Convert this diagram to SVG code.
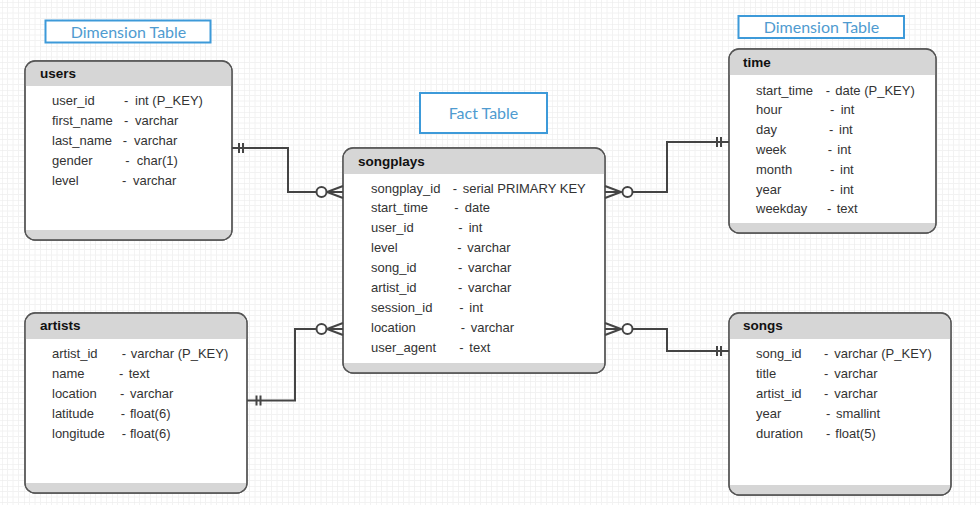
<svg xmlns="http://www.w3.org/2000/svg" width="980" height="507" viewBox="0 0 980 507">
<defs>
<pattern id="grid" x="2" y="2" width="22" height="22" patternUnits="userSpaceOnUse">
<path d="M5.5,0V22M11,0V22M16.5,0V22M0,5.5H22M0,11H22M0,16.5H22" stroke="#f2f2f2" stroke-width="1" fill="none"/>
<path d="M0,0V22M0,0H22" stroke="#eaeaea" stroke-width="1" fill="none"/>
</pattern>
<style>
.box{fill:#fff;stroke:#555;stroke-width:1.3}
.band{fill:#d6d6d6}
.title{font-family:"Liberation Sans",Arial,sans-serif;font-weight:bold;font-size:13.5px;fill:#111}
.row{font-family:"Liberation Sans",Arial,sans-serif;font-size:13px;fill:#333}
.lbl{fill:#fff;stroke:#3d9ad9;stroke-width:2}
.lbltxt{font-family:Lato,"Open Sans",sans-serif;font-size:16px;fill:#4f9bd0;text-anchor:middle}
.ln{fill:none;stroke:#444;stroke-width:2}
.circ{fill:#fff;stroke:#444;stroke-width:2}
</style>
</defs>
<rect width="980" height="507" fill="#fff"/>
<rect width="980" height="505" fill="url(#grid)"/>

<g id="label-dim-users">
<rect class="lbl" x="45.5" y="20.5" width="165" height="22"/>
<text class="lbltxt" x="128.5" y="37.5">Dimension Table</text>
</g>
<g id="label-fact">
<rect class="lbl" x="420" y="93" width="127" height="40"/>
<text class="lbltxt" x="483.5" y="118.5">Fact Table</text>
</g>
<g id="label-dim-time">
<rect class="lbl" x="738.5" y="16" width="165.5" height="22"/>
<text class="lbltxt" x="821.5" y="32.5">Dimension Table</text>
</g>

<g id="users">
<rect class="box" x="25" y="61" width="207" height="179" rx="10"/>
<path class="band" d="M25.6,86V71A9.4,9.4 0 0 1 35,61.6H222A9.4,9.4 0 0 1 231.4,71V86Z"/>
<path class="band" d="M25.6,230H231.4A9.4,9.4 0 0 1 222,239.4H35A9.4,9.4 0 0 1 25.6,230Z"/>
<rect x="25" y="61" width="207" height="179" rx="10" fill="none" stroke="#555" stroke-width="1.3"/>
<text class="title" x="40" y="78">users</text>
<text class="row" x="52" y="104.5">user_id</text><text class="row" x="124" y="104.5">-</text><text class="row" x="135" y="104.5">int (P_KEY)</text>
<text class="row" x="52" y="124.5">first_name</text><text class="row" x="124" y="124.5">-</text><text class="row" x="135" y="124.5">varchar</text>
<text class="row" x="52" y="144.5">last_name</text><text class="row" x="122.7" y="144.5">-</text><text class="row" x="134" y="144.5">varchar</text>
<text class="row" x="52" y="164.5">gender</text><text class="row" x="125.3" y="164.5">-</text><text class="row" x="136.7" y="164.5">char(1)</text>
<text class="row" x="52" y="184.5">level</text><text class="row" x="122" y="184.5">-</text><text class="row" x="133" y="184.5">varchar</text>
</g>

<g id="songplays">
<rect class="box" x="343" y="148" width="262" height="225" rx="10"/>
<path class="band" d="M343.6,174V158A9.4,9.4 0 0 1 353,148.6H595A9.4,9.4 0 0 1 604.4,158V174Z"/>
<path class="band" d="M343.6,363H604.4A9.4,9.4 0 0 1 595,372.4H353A9.4,9.4 0 0 1 343.6,363Z"/>
<rect x="343" y="148" width="262" height="225" rx="10" fill="none" stroke="#555" stroke-width="1.3"/>
<text class="title" x="358" y="165.5">songplays</text>
<text class="row" x="371" y="192.5">songplay_id</text><text class="row" x="452.7" y="192.5">-</text><text class="row" x="462.7" y="192.5">serial PRIMARY KEY</text>
<text class="row" x="371" y="212.4">start_time</text><text class="row" x="454.3" y="212.4">-</text><text class="row" x="464.7" y="212.4">date</text>
<text class="row" x="371" y="232.3">user_id</text><text class="row" x="458.3" y="232.3">-</text><text class="row" x="468.7" y="232.3">int</text>
<text class="row" x="371" y="252.2">level</text><text class="row" x="457.3" y="252.2">-</text><text class="row" x="467.3" y="252.2">varchar</text>
<text class="row" x="371" y="272.1">song_id</text><text class="row" x="458" y="272.1">-</text><text class="row" x="468" y="272.1">varchar</text>
<text class="row" x="371" y="292">artist_id</text><text class="row" x="458" y="292">-</text><text class="row" x="468" y="292">varchar</text>
<text class="row" x="371" y="311.9">session_id</text><text class="row" x="459.3" y="311.9">-</text><text class="row" x="469.3" y="311.9">int</text>
<text class="row" x="371" y="331.8">location</text><text class="row" x="460.7" y="331.8">-</text><text class="row" x="470.7" y="331.8">varchar</text>
<text class="row" x="371" y="351.7">user_agent</text><text class="row" x="459.3" y="351.7">-</text><text class="row" x="469.3" y="351.7">text</text>
</g>

<g id="time">
<rect class="box" x="729" y="49" width="207" height="184" rx="10"/>
<path class="band" d="M729.6,75V59A9.4,9.4 0 0 1 739,49.6H926A9.4,9.4 0 0 1 935.4,59V75Z"/>
<path class="band" d="M729.6,223H935.4A9.4,9.4 0 0 1 926,232.4H739A9.4,9.4 0 0 1 729.6,223Z"/>
<rect x="729" y="49" width="207" height="184" rx="10" fill="none" stroke="#555" stroke-width="1.3"/>
<text class="title" x="743" y="66.5">time</text>
<text class="row" x="756" y="94.5">start_time</text><text class="row" x="825.7" y="94.5">-</text><text class="row" x="835.3" y="94.5">date (P_KEY)</text>
<text class="row" x="756" y="114.3">hour</text><text class="row" x="830" y="114.3">-</text><text class="row" x="840.7" y="114.3">int</text>
<text class="row" x="756" y="134.1">day</text><text class="row" x="829" y="134.1">-</text><text class="row" x="839" y="134.1">int</text>
<text class="row" x="756" y="153.9">week</text><text class="row" x="827.7" y="153.9">-</text><text class="row" x="837.3" y="153.9">int</text>
<text class="row" x="756" y="173.7">month</text><text class="row" x="830" y="173.7">-</text><text class="row" x="840" y="173.7">int</text>
<text class="row" x="756" y="193.5">year</text><text class="row" x="830" y="193.5">-</text><text class="row" x="840" y="193.5">int</text>
<text class="row" x="756" y="213.3">weekday</text><text class="row" x="827" y="213.3">-</text><text class="row" x="836.7" y="213.3">text</text>
</g>

<g id="artists">
<rect class="box" x="25" y="313" width="222" height="180" rx="10"/>
<path class="band" d="M25.6,339V323A9.4,9.4 0 0 1 35,313.6H237A9.4,9.4 0 0 1 246.4,323V339Z"/>
<path class="band" d="M25.6,483H246.4A9.4,9.4 0 0 1 237,492.4H35A9.4,9.4 0 0 1 25.6,483Z"/>
<rect x="25" y="313" width="222" height="180" rx="10" fill="none" stroke="#555" stroke-width="1.3"/>
<text class="title" x="40" y="330">artists</text>
<text class="row" x="52" y="357.5">artist_id</text><text class="row" x="121.7" y="357.5">-</text><text class="row" x="130.7" y="357.5">varchar (P_KEY)</text>
<text class="row" x="52" y="377.5">name</text><text class="row" x="119" y="377.5">-</text><text class="row" x="128.7" y="377.5">text</text>
<text class="row" x="52" y="397.5">location</text><text class="row" x="120" y="397.5">-</text><text class="row" x="130" y="397.5">varchar</text>
<text class="row" x="52" y="417.5">latitude</text><text class="row" x="120.7" y="417.5">-</text><text class="row" x="130" y="417.5">float(6)</text>
<text class="row" x="52" y="437.5">longitude</text><text class="row" x="121.7" y="437.5">-</text><text class="row" x="130" y="437.5">float(6)</text>
</g>

<g id="songs">
<rect class="box" x="729" y="313" width="222" height="182" rx="10"/>
<path class="band" d="M729.6,339V323A9.4,9.4 0 0 1 739,313.6H941A9.4,9.4 0 0 1 950.4,323V339Z"/>
<path class="band" d="M729.6,485H950.4A9.4,9.4 0 0 1 941,494.4H739A9.4,9.4 0 0 1 729.6,485Z"/>
<rect x="729" y="313" width="222" height="182" rx="10" fill="none" stroke="#555" stroke-width="1.3"/>
<text class="title" x="743" y="330">songs</text>
<text class="row" x="756" y="357.5">song_id</text><text class="row" x="824" y="357.5">-</text><text class="row" x="834.3" y="357.5">varchar (P_KEY)</text>
<text class="row" x="756" y="377.5">title</text><text class="row" x="824" y="377.5">-</text><text class="row" x="834.3" y="377.5">varchar</text>
<text class="row" x="756" y="397.5">artist_id</text><text class="row" x="824" y="397.5">-</text><text class="row" x="834.3" y="397.5">varchar</text>
<text class="row" x="756" y="417.5">year</text><text class="row" x="826" y="417.5">-</text><text class="row" x="836" y="417.5">smallint</text>
<text class="row" x="756" y="437.5">duration</text><text class="row" x="826" y="437.5">-</text><text class="row" x="835.3" y="437.5">float(5)</text>
</g>

<g id="connectors">
<path class="ln" d="M232,148H288V192H316.5"/>
<path class="ln" d="M239,143V153M243,143V153"/>
<path class="ln" d="M343,186L327,192L343,198M327,192H343"/>
<circle class="circ" cx="321.5" cy="192" r="5"/>
<path class="ln" d="M247,400.5H295V329H316.5"/>
<path class="ln" d="M256.5,395.5V405.5M260.5,395.5V405.5"/>
<path class="ln" d="M343,323L327,329L343,335M327,329H343"/>
<circle class="circ" cx="321.5" cy="329" r="5"/>
<path class="ln" d="M632.5,192H667V142H729"/>
<path class="ln" d="M717,137V147M721,137V147"/>
<path class="ln" d="M605,186L621,192L605,198M605,192H621"/>
<circle class="circ" cx="627.5" cy="192" r="5"/>
<path class="ln" d="M632.5,329H667V351H729"/>
<path class="ln" d="M717,346V356M721,346V356"/>
<path class="ln" d="M605,323L621,329L605,335M605,329H621"/>
<circle class="circ" cx="627.5" cy="329" r="5"/>
</g>
</svg>
